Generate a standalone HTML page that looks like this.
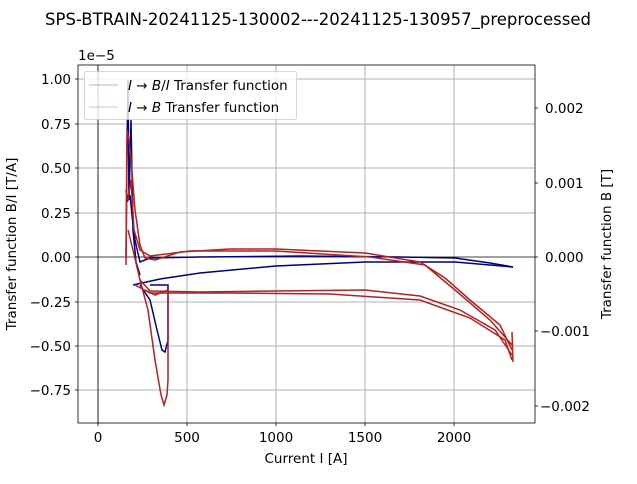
<!DOCTYPE html>
<html><head><meta charset="utf-8"><style>
body{margin:0;background:#fff}
svg text{font-family:"DejaVu Sans","Liberation Sans",sans-serif;font-size:13.5px;fill:#000}
</style></head><body>
<svg width="637" height="479" viewBox="0 0 637 479" xmlns="http://www.w3.org/2000/svg">
<rect width="637" height="479" fill="#fff"/>
<text x="318" y="25" text-anchor="middle" style="font-size:16.5px">SPS-BTRAIN-20241125-130002---20241125-130957_preprocessed</text>
<g stroke="#b0b0b0" stroke-width="1">
<line x1="98" y1="65" x2="98" y2="423"/><line x1="187" y1="65" x2="187" y2="423"/><line x1="276" y1="65" x2="276" y2="423"/><line x1="365" y1="65" x2="365" y2="423"/><line x1="454" y1="65" x2="454" y2="423"/>
<line x1="78" y1="79" x2="535" y2="79"/><line x1="78" y1="124" x2="535" y2="124"/><line x1="78" y1="168" x2="535" y2="168"/><line x1="78" y1="213" x2="535" y2="213"/><line x1="78" y1="302" x2="535" y2="302"/><line x1="78" y1="346" x2="535" y2="346"/><line x1="78" y1="390" x2="535" y2="390"/>
</g>
<line x1="98" y1="65" x2="98" y2="423" stroke="#000" stroke-width="0.8"/>
<line x1="78" y1="257" x2="535" y2="257" stroke="#000" stroke-width="0.8"/>
<g fill="none" stroke="#00007f" stroke-width="1.5">
<path d="M126,257 L127,150 L128,80 L129,200 L131,120 L133,230 L136,262 L140,275"/>
<path d="M126,190 L128,200 L130,195 L132,215 L135,240 L140,262 L150,258 L200,257 L300,256 L400,257 L455,258 L490,263 L513,267"/>
<path d="M133,285 L160,279 L200,273 L276,266 L365,262 L455,262 L513,267"/>
<path d="M140,285 L150,300 L157,330 L162,350 L165,352 L168,340 L168,285 L150,285"/>
</g>
<g fill="none" stroke="#b22222" stroke-width="1.5">
<path d="M126,265 L127,130 L129,140 L131,160 L135,210 L140,245 L145,258 L155,260 L180,252 L230,249 L276,249 L365,253 L420,262 L445,278 L470,300 L500,325 L512,350"/>
<path d="M128,200 L131,180 L134,230 L140,250 L150,256 L190,251 L276,251 L370,257 L425,265 L455,290 L490,320 L512,345"/>
<path d="M128,230 L133,250 L140,280 L150,291 L200,292 L276,291 L365,290 L420,296 L460,310 L495,330 L512,355"/>
<path d="M135,285 L150,293 L230,293 L330,294 L420,300 L470,318 L505,340 L512,360"/>
<path d="M140,280 L148,310 L155,360 L161,395 L164,405 L167,395 L168,380 L168,290 L155,295 L145,290"/>
<path d="M512,332 L513,362"/>
</g>
<rect x="78" y="65" width="457" height="358" fill="none" stroke="#000" stroke-width="0.8"/>
<g stroke="#000" stroke-width="0.8">
<line x1="98" y1="423" x2="98" y2="426"/><line x1="187" y1="423" x2="187" y2="426"/><line x1="276" y1="423" x2="276" y2="426"/><line x1="365" y1="423" x2="365" y2="426"/><line x1="454" y1="423" x2="454" y2="426"/>
<line x1="75" y1="79" x2="78" y2="79"/><line x1="75" y1="124" x2="78" y2="124"/><line x1="75" y1="168" x2="78" y2="168"/><line x1="75" y1="213" x2="78" y2="213"/><line x1="75" y1="257" x2="78" y2="257"/><line x1="75" y1="302" x2="78" y2="302"/><line x1="75" y1="346" x2="78" y2="346"/><line x1="75" y1="390" x2="78" y2="390"/>
<line x1="535" y1="108" x2="538" y2="108"/><line x1="535" y1="183" x2="538" y2="183"/><line x1="535" y1="257" x2="538" y2="257"/><line x1="535" y1="331" x2="538" y2="331"/><line x1="535" y1="406" x2="538" y2="406"/>
</g>
<g text-anchor="middle">
<text x="98" y="442">0</text><text x="187" y="442">500</text><text x="276" y="442">1000</text><text x="365" y="442">1500</text><text x="454" y="442">2000</text>
</g>
<g text-anchor="end">
<text x="71" y="84">1.00</text><text x="71" y="129">0.75</text><text x="71" y="173">0.50</text><text x="71" y="218">0.25</text><text x="71" y="262">0.00</text><text x="71" y="307">−0.25</text><text x="71" y="351">−0.50</text><text x="71" y="395">−0.75</text>
</g>
<g>
<text x="545" y="113">0.002</text><text x="545" y="188">0.001</text><text x="545" y="262">0.000</text><text x="540" y="336">−0.001</text><text x="540" y="411">−0.002</text>
</g>
<text x="78" y="60">1e−5</text>
<text x="306" y="463" text-anchor="middle">Current I [A]</text>
<text transform="translate(16,244) rotate(-90)" text-anchor="middle">Transfer function B/I [T/A]</text>
<text transform="translate(611,244) rotate(-90)" text-anchor="middle">Transfer function B [T]</text>
<rect x="84.5" y="71.5" width="212" height="48" rx="2" fill="#fff" fill-opacity="0.8" stroke="#ccc" stroke-width="0.8"/>
<line x1="89" y1="85" x2="118" y2="85" stroke="#00007f" stroke-opacity="0.2" stroke-width="1.5"/>
<line x1="89" y1="107" x2="118" y2="107" stroke="#b22222" stroke-opacity="0.2" stroke-width="1.5"/>
<text x="128" y="90"><tspan font-style="italic">I</tspan> → <tspan font-style="italic">B</tspan>/<tspan font-style="italic">I</tspan> Transfer function</text>
<text x="128" y="112"><tspan font-style="italic">I</tspan> → <tspan font-style="italic">B</tspan> Transfer function</text>
</svg>
</body></html>
